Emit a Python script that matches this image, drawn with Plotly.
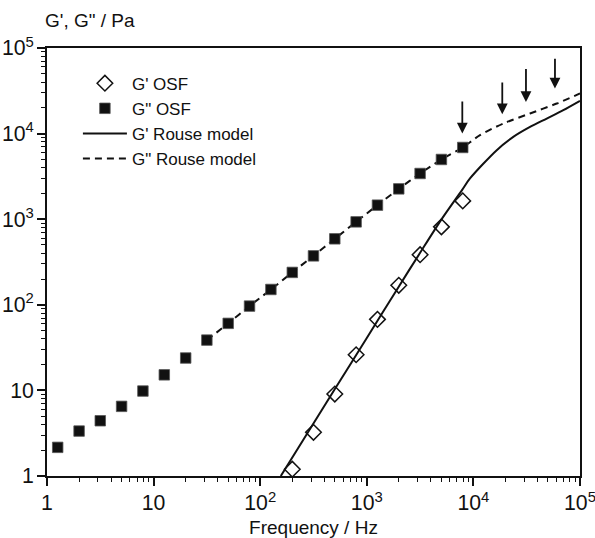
import numpy as np
import plotly.graph_objects as go

# ---- data ----
freq_osf_loss = [1.26, 2.0, 3.16, 5.01, 7.94, 12.6, 20.0, 31.6, 50.1, 79.4,
                 126, 200, 316, 501, 794, 1259, 1995, 3162, 5012, 7943]
g2_osf = [2.16, 3.35, 4.42, 6.51, 9.83, 15.2, 23.9, 38.7, 60.7, 96.6,
          151, 239, 373, 590, 931, 1459, 2261, 3420, 4985, 6885]

freq_osf_storage = [200, 316, 501, 794, 1259, 1995, 3162, 5012, 7943]
g1_osf = [1.20, 3.24, 9.06, 26.1, 67.6, 169, 385, 814, 1637]

freq_rouse_g1 = [156, 500, 1000, 2000, 3162, 4966, 7816, 9290, 16550, 23670,
                 33960, 48730, 69700, 100000]
g1_rouse = [1.0, 10.3, 41, 164, 405, 975, 2185, 2990, 6400, 9150,
            11970, 15000, 18750, 24100]

freq_rouse_g2 = [31.6, 50.1, 79.4, 126, 200, 316, 501, 794, 1259, 1995, 3162,
                 5012, 7943, 11530, 19060, 33960, 60450, 100000]
g2_rouse = [38.7, 60.7, 96.6, 151, 239, 373, 590, 931, 1459, 2261, 3420,
            4985, 6885, 9580, 13120, 17170, 22440, 29380]

arrow_freq = [7870, 18660, 31130, 58240]
arrow_tip = [10000, 16860, 23440, 33630]
arrow_tail = [24740, 41220, 59150, 78000]

legend_names = ["G' OSF", 'G" OSF', "G' Rouse model", 'G" Rouse model']
x_title = "Frequency / Hz"
y_title = 'G\', G" / Pa'

FONT = "Liberation Sans, Arial, sans-serif"
BLACK = "#111111"

fig = go.Figure()
fig.add_trace(go.Scatter(
    x=freq_osf_storage, y=g1_osf, mode="markers", name=legend_names[0],
    legendrank=1,
    marker=dict(symbol="diamond-open", size=12, color=BLACK,
                line=dict(width=1.5, color=BLACK))))
fig.add_trace(go.Scatter(
    x=freq_rouse_g1, y=g1_rouse, mode="lines", name=legend_names[2],
    legendrank=3,
    line=dict(color=BLACK, width=2, shape="spline", smoothing=0.8)))
fig.add_trace(go.Scatter(
    x=freq_rouse_g2, y=g2_rouse, mode="lines", name=legend_names[3],
    legendrank=4,
    line=dict(color=BLACK, width=2, dash="7px,5px", shape="spline", smoothing=0.8)))
fig.add_trace(go.Scatter(
    x=freq_osf_loss, y=g2_osf, mode="markers", name=legend_names[1],
    legendrank=2,
    marker=dict(symbol="square", size=10.5, color=BLACK,
                line=dict(width=0.8, color="#555"))))

annotations = []
for f, tip, tail in zip(arrow_freq, arrow_tip, arrow_tail):
    annotations.append(dict(
        x=np.log10(f), y=np.log10(tip), ax=np.log10(f), ay=np.log10(tail),
        xref="x", yref="y", axref="x", ayref="y", text="",
        showarrow=True, arrowhead=2, arrowsize=1.2, arrowwidth=1.8,
        arrowcolor=BLACK, standoff=0, startstandoff=0))
annotations.append(dict(
    x=-0.0075, y=1.065, xref="paper", yref="paper", xanchor="left",
    yanchor="middle", text=y_title, showarrow=False,
    font=dict(family=FONT, size=19, color=BLACK)))

axis_common = dict(
    type="log", dtick=1, exponentformat="power", automargin=False,
    ticklabeloverflow="allow",
    showline=True, linecolor=BLACK, linewidth=1.6, mirror=True,
    ticks="outside", ticklen=8, tickwidth=1.5, tickcolor=BLACK,
    showgrid=False, zeroline=False,
    tickfont=dict(family=FONT, size=17, color=BLACK),
    minor=dict(dtick="D1", ticks="outside", ticklen=4.5, tickwidth=1.2,
               tickcolor=BLACK, showgrid=False),
)

fig.update_layout(
    width=595, height=538, autosize=False,
    margin=dict(l=47, r=15, t=48, b=62),
    paper_bgcolor="white", plot_bgcolor="white",
    font=dict(family=FONT, color=BLACK),
    xaxis=dict(range=[0, 5], **axis_common,
               title=dict(text=x_title, standoff=12,
                          font=dict(family=FONT, size=19, color=BLACK))),
    yaxis=dict(range=[0, 5], **axis_common),
    legend=dict(x=0.058, y=0.9587, xanchor="left", yanchor="top",
                bgcolor="rgba(0,0,0,0)", borderwidth=0, itemwidth=44,
                font=dict(family=FONT, size=17, color=BLACK),
                traceorder="normal"),
    annotations=annotations,
    showlegend=True,
)

# remove the default 8px page margin so the figure fills the window exactly
fig.write_html("out.html",
               config={"displayModeBar": False},
               post_script="document.body.style.margin='0px';"
                           "document.body.style.overflow='hidden';")
